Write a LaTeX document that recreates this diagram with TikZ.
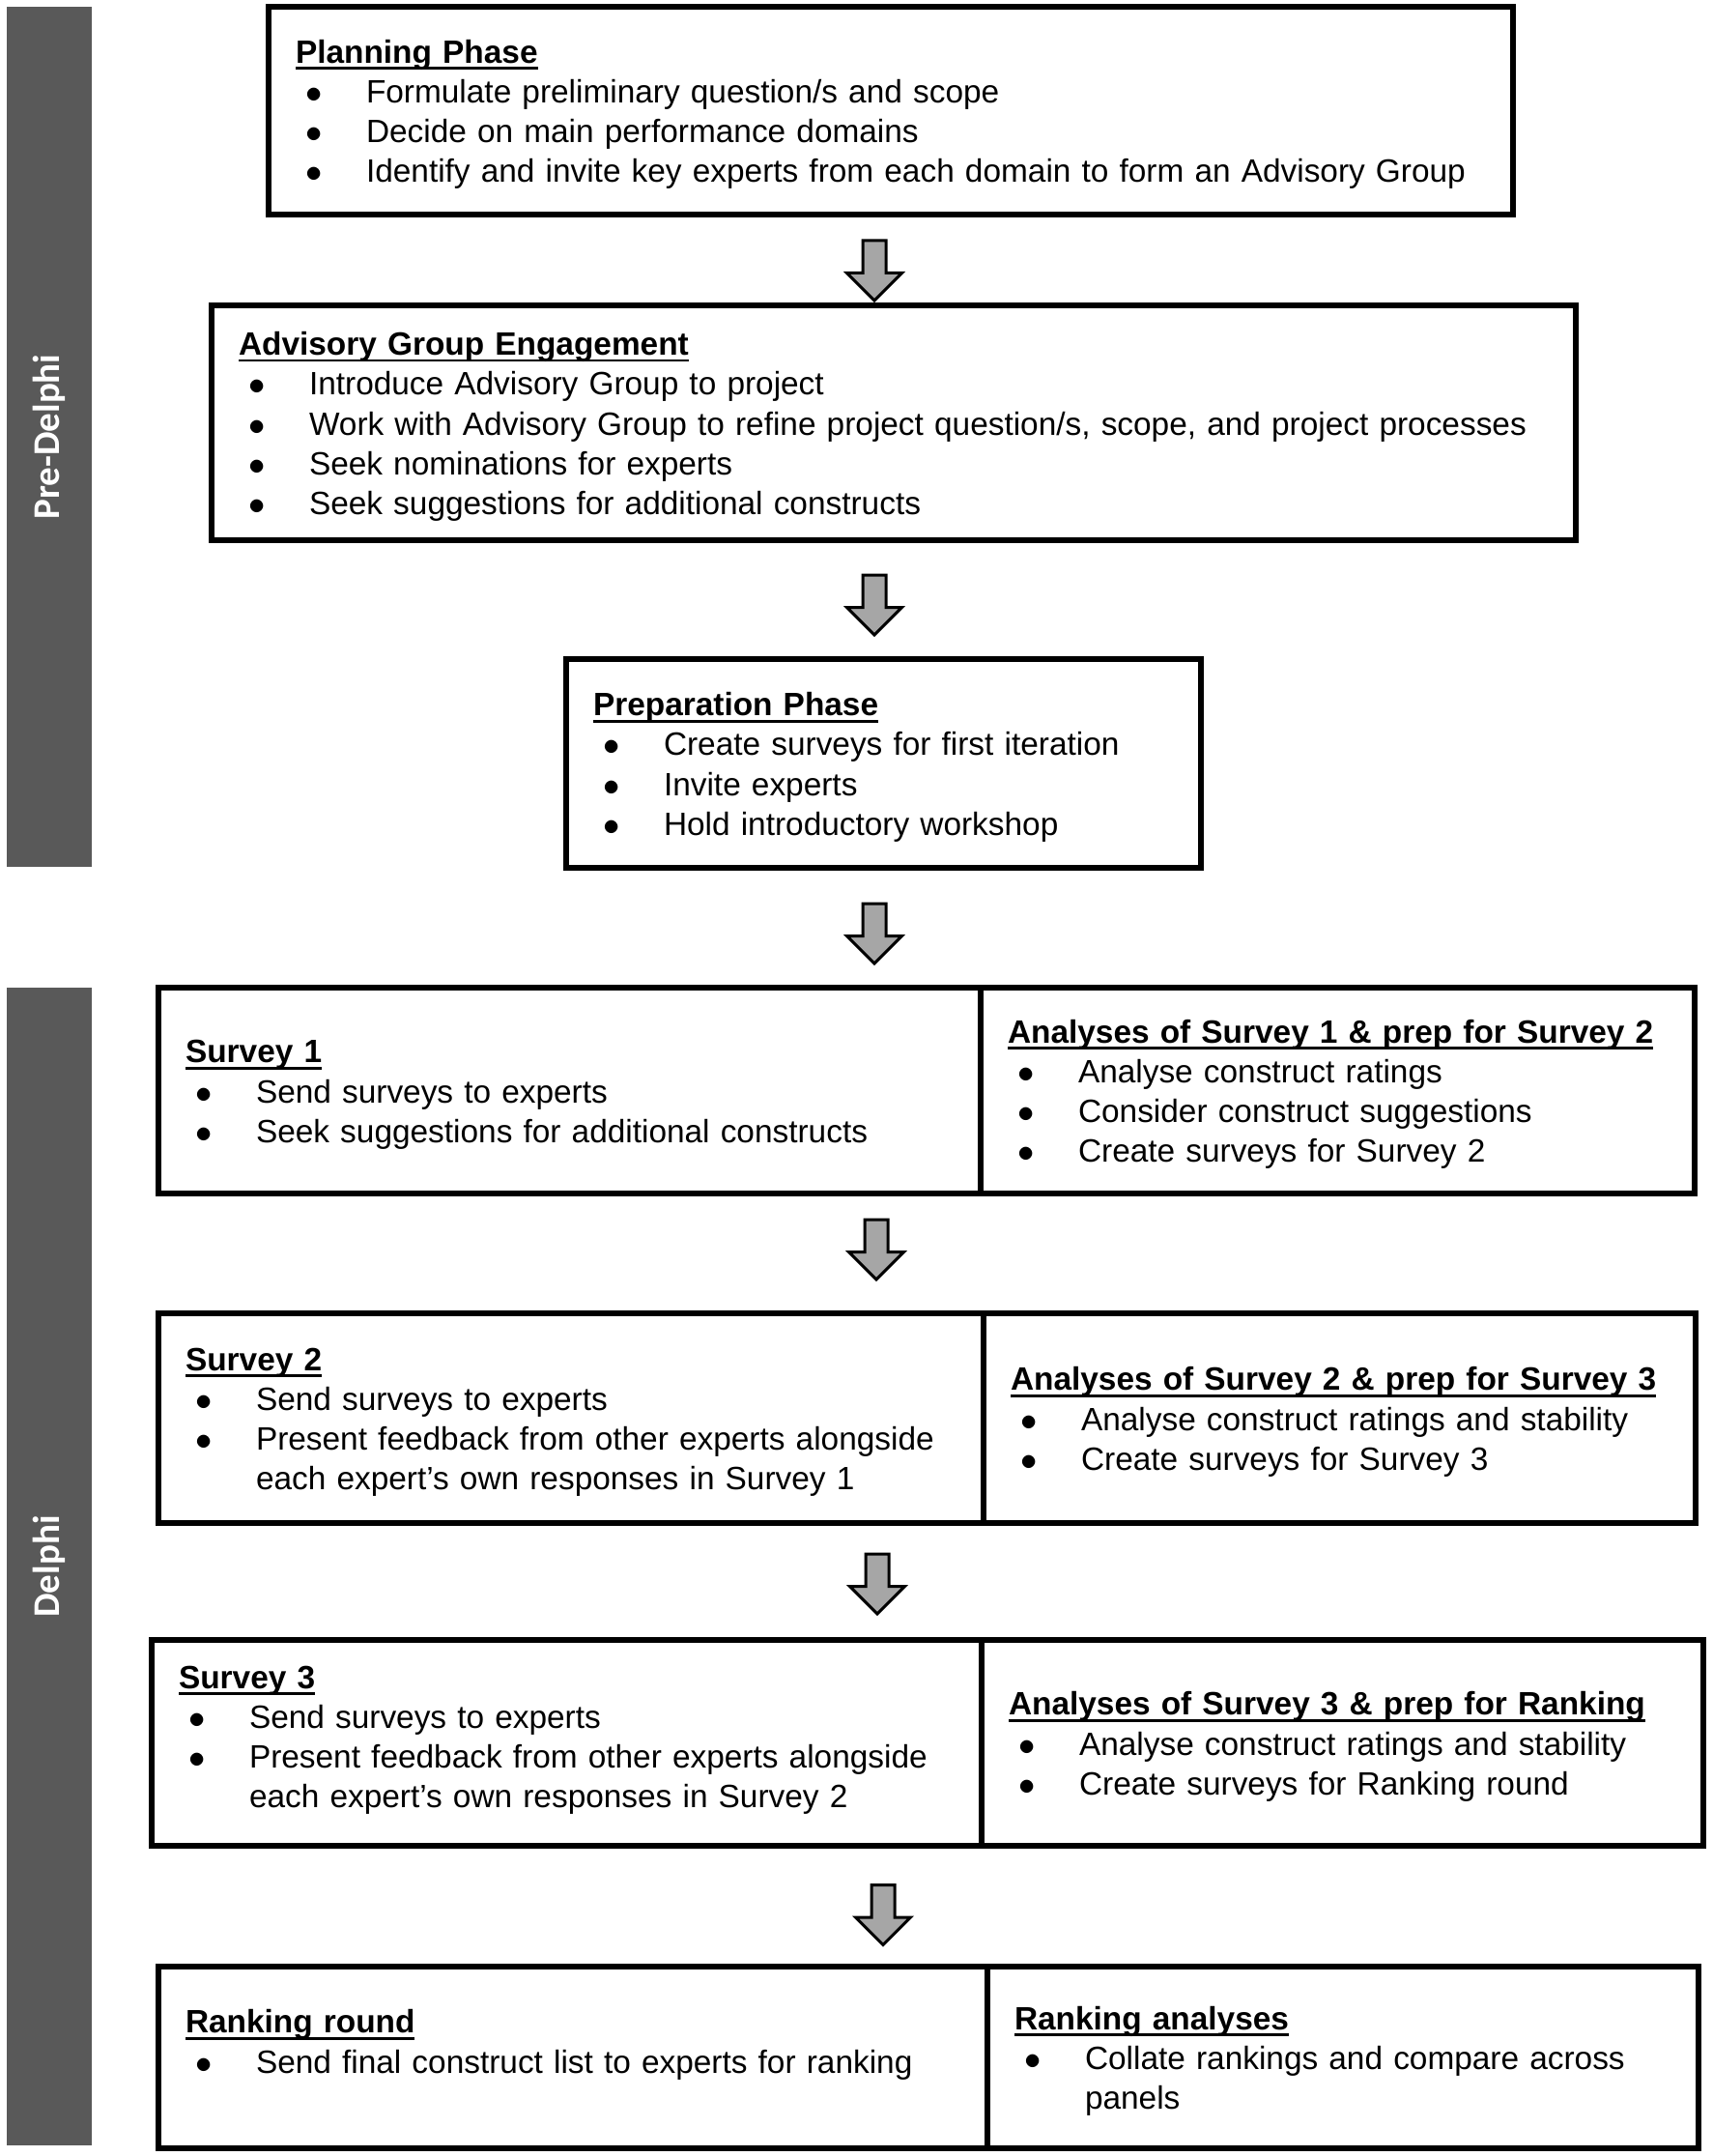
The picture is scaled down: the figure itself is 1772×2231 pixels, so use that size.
\documentclass[tikz,border=0pt]{standalone}
\usepackage{fontspec}
\setmainfont{Liberation Sans}
\newfontfamily\barfont{Carlito}
\usepackage{tikz}
\usetikzlibrary{shapes.arrows, positioning, calc}

\definecolor{barfill}{HTML}{595959}
\definecolor{arrfill}{HTML}{A6A6A6}

% box contents: title line, bullet lines, continuation lines
\newcommand{\ttl}[1]{\rule{0pt}{16pt}\setbox0\hbox{\textbf{#1}}\rlap{\rule[-3.4pt]{\wd0}{1.4pt}}\box0}
\newcommand{\itm}[1]{\\\makebox[36.5pt][l]{\hspace{5.25pt}$\bullet$}\mbox{#1}}
\newcommand{\cnt}[1]{\\\hspace*{36.5pt}\mbox{#1}}

\begin{document}
\begin{tikzpicture}[
    x=0.5pt, y=-0.5pt,
    phasebox/.style={draw, rectangle, line width=2.6pt, inner xsep=14pt, inner ysep=0pt, align=left,
      font={\fontsize{16.7}{20.6}\selectfont\lineskiplimit=-20pt}},
    sidebar/.style={rectangle, fill=barfill, rotate=90, minimum height=44pt, inner sep=0pt, text=white,
      font={\barfont\bfseries\fontsize{19.5}{22}\selectfont}},
    blockarr/.style={single arrow, draw, fill=arrfill, line width=1.5pt, rotate=-90, inner xsep=0pt,
      inner ysep=5.25pt, single arrow head extend=8.25pt, minimum height=31pt, minimum width=0pt}
  ]
  \useasboundingbox (0,0) rectangle (1772,2231);

  % side bars
  \node[sidebar, minimum width=445pt] (pre) at (51,452) {Pre-Delphi};
  \node[sidebar, minimum width=599pt] (delphi) at (51,1621) {Delphi};

  % pre-Delphi boxes
  \node[phasebox, text width=616pt, minimum height=107.5pt] (plan) at (922,114.5) {\ttl{Planning Phase}
    \itm{Formulate preliminary question/s and scope}
    \itm{Decide on main performance domains}
    \itm{Identify and invite key experts from each domain to form an Advisory Group}};
  \node[phasebox, text width=678pt, minimum height=121.5pt] (advis) at (925,437.5) {\ttl{Advisory Group Engagement}
    \itm{Introduce Advisory Group to project}
    \itm{Work with Advisory Group to refine project question/s, scope, and project processes}
    \itm{Seek nominations for experts}
    \itm{Seek suggestions for additional constructs}};
  \node[phasebox, text width=300.5pt, minimum height=108pt] (prep) at (914.5,790) {\ttl{Preparation Phase}
    \itm{Create surveys for first iteration}
    \itm{Invite experts}
    \itm{Hold introductory workshop}};

  % Delphi rounds
  \node[phasebox, text width=397.5pt, minimum height=106.5pt] (sur1) at (589.5,1128.5) {\ttl{Survey 1}
    \itm{Send surveys to experts}
    \itm{Seek suggestions for additional constructs}};
  \node[phasebox, text width=341.5pt, minimum height=106.5pt] (ana1) at (1384.5,1128.5) {\ttl{Analyses of Survey 1 \& prep for Survey 2}
    \itm{Analyse construct ratings}
    \itm{Consider construct suggestions}
    \itm{Create surveys for Survey 2}};

  \node[phasebox, text width=399pt, minimum height=108.5pt] (sur2) at (591,1467.5) {\ttl{Survey 2}
    \itm{Send surveys to experts}
    \itm{Present feedback from other experts alongside}
    \cnt{each expert’s own responses in Survey 1}};
  \node[phasebox, text width=340.5pt, minimum height=108.5pt] (ana2) at (1386.5,1467.5) {\ttl{Analyses of Survey 2 \& prep for Survey 3}
    \itm{Analyse construct ratings and stability}
    \itm{Create surveys for Survey 3}};

  \node[phasebox, text width=401.5pt, minimum height=106.5pt] (sur3) at (586.5,1803.5) {\ttl{Survey 3}
    \itm{Send surveys to experts}
    \itm{Present feedback from other experts alongside}
    \cnt{each expert’s own responses in Survey 2}\\[-10pt]\mbox{}};
  \node[phasebox, text width=345.5pt, minimum height=106.5pt] (ana3) at (1389.5,1803.5) {\ttl{Analyses of Survey 3 \& prep for Ranking}
    \itm{Analyse construct ratings and stability}
    \itm{Create surveys for Ranking round}};

  \node[phasebox, text width=401pt, minimum height=94pt] (rank) at (593,2129) {\ttl{Ranking round}
    \itm{Send final construct list to experts for ranking}\\\mbox{}};
  \node[phasebox, text width=340pt, minimum height=94pt] (rana) at (1390,2129) {\ttl{Ranking analyses}
    \itm{Collate rankings and compare across}
    \cnt{panels}};

  % block arrows between the stages
  \node[blockarr] (arr1) at (905,274) {};
  \node[blockarr] (arr2) at (905,620) {};
  \node[blockarr] (arr3) at (905,960) {};
  \node[blockarr] (arr4) at (907,1287) {};
  \node[blockarr] (arr5) at (908,1633) {};
  \node[blockarr] (arr6) at (914,1975.5) {};
\end{tikzpicture}
\end{document}
